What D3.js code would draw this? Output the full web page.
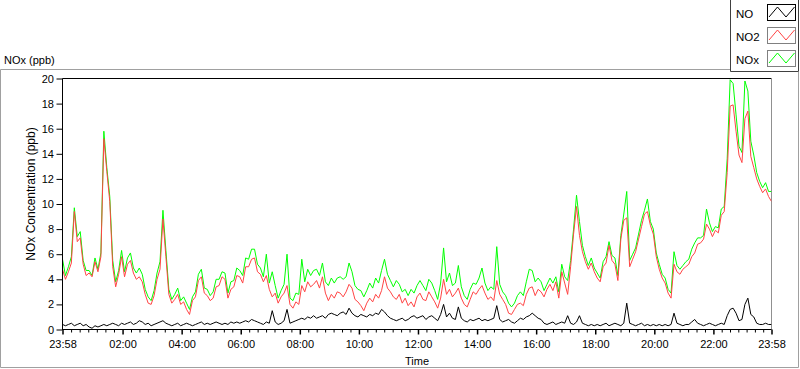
<!DOCTYPE html>
<html><head><meta charset="utf-8">
<script src="https://cdn.jsdelivr.net/npm/d3@7"></script>
<style>body{margin:0;background:#fff;} svg{display:block;font-family:"Liberation Sans",Arial,sans-serif;}</style>
</head><body><svg id="c" width="800" height="369"></svg>
<script>
// ---------------- DATA ----------------
const seriesNames = ["NO", "NO2", "NOx"];
const startLabel = "23:58";          // first sample time (day 0)
const stepMinutes = 6;               // sampling interval of the arrays below
const NO = [
0.4,0.3,0.4,0.5,0.3,0.4,0.5,0.3,0.4,0.2, 0.1,0.3,0.2,0.3,0.4,0.3,0.4,0.5,0.4,0.3,
0.5,0.4,0.5,0.6,0.4,0.5,0.7,0.6,0.4,0.5, 0.3,0.4,0.5,0.6,0.7,0.5,0.4,0.3,0.4,0.5,
0.3,0.4,0.5,0.4,0.3,0.4,0.5,0.6,0.4,0.5, 0.4,0.5,0.6,0.5,0.4,0.5,0.4,0.6,0.5,0.6,
0.5,0.6,0.7,0.6,0.8,0.7,0.6,
0.5,0.4,0.6,
0.5,1.5,0.6,0.4,0.5,0.7,1.6,0.5,0.6,0.7, 0.8,0.9,0.8,1.0,0.9,1.1,0.9,1.0,1.1,0.9,
1.2,1.3,1.2,1.1,1.3,1.4,1.2,1.7,1.3,1.1, 1.0,1.2,1.1,1.0,1.2,1.1,1.3,1.2,1.6,1.4,
1.1,0.9,0.8,0.7,0.8,0.9,0.7,0.8,1.0,1.1, 0.9,1.0,1.1,0.8,1.0,1.1,0.9,0.7,1.2,2.0,
1.0,1.3,0.9,0.8,1.8,0.9,0.7,0.6,0.8,0.7, 0.8,0.9,0.7,0.8,0.7,0.8,0.9,1.9,0.8,0.6,
0.7,0.8,0.6,0.5,0.7,0.9,0.8,1.0,1.1,1.3, 1.1,0.9,0.8,
0.5,0.4,0.5,0.6,0.4,0.5,0.6,
0.5,1.1,0.5,0.4,0.6,1.1,0.5,0.4,0.3,0.4, 0.3,0.4,0.3,0.4,0.5,0.3,0.4,0.5,0.4,0.3,
0.5,2.1,0.5,0.4,0.3,0.4,0.5,0.3,0.4,0.3, 0.4,0.3,0.4,0.3,0.4,0.3,0.4,1.3,0.5,0.4,
0.3,0.4,0.4,0.6,0.8,0.5,0.4,0.3,0.4,0.5, 0.4,0.3,0.4,0.5,0.4,1.1,1.6,1.7,1.3,0.7,
0.8,2.0,2.5,1.2,1.0,0.5,0.4,0.4,0.5,0.4, 0.4
];
const NO2 = [
4.8,4.0,4.6,5.3,9.4,7.0,7.3,5.2,4.3,4.5, 4.2,5.4,4.6,5.8,15.2,12.6,10.2,5.0,3.4,4.4,
5.8,4.2,5.2,5.5,4.5,4.0,4.2,3.8,2.8,2.1, 2.0,2.7,4.0,4.8,8.8,5.8,2.8,2.1,2.4,2.8,
2.0,2.2,1.6,1.2,2.3,2.6,3.9,4.2,2.9,2.7, 2.3,2.5,3.4,3.5,4.2,4.0,2.5,3.2,3.4,4.3,
4.2,3.7,5.0,5.0,5.6,5.7,4.6,
4.4,3.8,4.3,
3.2,2.6,2.9,2.1,2.6,2.9,3.5,2.0,1.7,2.2, 2.0,3.5,3.0,3.8,3.4,3.6,3.9,3.3,4.2,2.9,
2.3,2.8,2.5,3.0,2.9,2.6,3.0,3.6,3.3,2.4, 2.2,1.9,1.5,2.1,2.5,2.2,2.8,2.5,3.1,4.2,
3.3,3.0,2.6,2.4,2.8,2.1,2.5,1.9,2.2,1.8, 2.6,2.9,2.4,2.3,3.0,2.6,2.2,1.7,2.5,4.0,
2.8,3.2,2.6,2.9,3.3,2.5,2.0,1.8,2.4,3.0, 2.8,3.2,3.5,2.9,2.4,2.6,2.3,3.9,2.8,2.4,
2.0,1.3,1.2,1.6,2.0,2.1,1.9,2.8,3.3,3.4, 2.7,3.2,3.0,
2.6,3.2,3.6,3.1,3.8,2.5,4.6,
3.7,2.8,5.0,7.6,9.8,7.5,6.2,5.4,4.8,5.3, 4.6,4.1,3.8,5.0,5.3,6.7,5.5,5.2,3.9,7.2,
8.7,8.9,5.0,5.6,6.2,7.2,8.2,9.2,9.4,8.3, 7.6,5.8,4.8,4.1,3.7,2.9,2.5,5.2,4.6,4.4,
4.8,5.0,5.2,5.8,6.1,6.8,6.9,7.2,8.4,8.0, 7.4,7.9,7.7,9.1,9.4,12.5,17.8,17.9,15.8,13.9,
13.3,16.8,17.4,13.8,12.9,12.0,11.4,10.9,11.2,10.6, 10.2
];
const NOx = [
5.6,4.3,5.0,5.8,9.7,7.4,7.8,5.5,4.7,4.7, 4.3,5.7,4.8,6.1,15.8,12.9,10.6,5.5,3.8,4.7,
6.3,4.6,5.7,6.1,4.9,4.5,4.9,4.4,3.2,2.6, 2.3,3.1,4.5,5.4,9.5,6.3,3.2,2.4,2.8,3.3,
2.3,2.6,2.1,1.6,2.6,3.0,4.4,4.8,3.3,3.2, 2.7,3.0,4.0,4.0,4.6,4.5,2.9,3.8,3.9,4.9,
4.7,4.3,5.7,5.6,6.4,6.4,5.2,
4.9,4.2,6.0,
3.7,4.6,3.5,2.5,3.1,3.6,6.0,2.5,2.3,2.9, 2.8,5.6,3.8,4.8,4.3,4.7,4.8,4.3,5.3,3.8,
3.5,4.1,3.7,4.1,4.2,4.0,4.2,5.3,4.6,3.5, 3.2,3.1,2.6,3.1,3.7,3.3,4.1,3.7,4.7,5.6,
4.4,3.9,3.4,3.9,3.6,3.0,3.2,2.7,3.2,2.9, 3.5,3.9,3.5,3.1,4.0,3.7,3.1,2.4,3.7,6.5,
3.8,4.5,3.5,3.7,5.1,3.4,2.7,2.4,3.2,3.7, 3.6,4.1,4.9,3.7,3.1,3.4,3.2,6.6,3.6,3.0,
2.7,2.1,1.8,2.1,2.7,3.0,2.7,3.8,4.8,4.7, 3.8,4.1,3.8,
3.1,3.6,4.1,3.7,4.2,3.0,5.2,
4.2,3.9,5.5,8.0,10.7,8.6,6.7,5.8,5.1,5.7, 4.9,4.5,4.1,5.4,5.8,7.0,5.9,5.7,4.3,7.5,
9.2,11.0,5.5,6.0,6.5,7.6,8.7,9.5,10.4,8.6, 8.0,6.1,5.2,4.4,4.1,3.2,2.9,6.2,5.1,4.8,
5.1,5.4,5.6,6.4,6.9,7.3,7.3,7.5,9.6,8.5, 7.8,8.2,8.1,9.6,9.8,13.6,19.9,19.6,17.1,14.6,
14.1,19.8,19.0,15.0,13.9,12.5,11.8,11.3,11.7,11.0, 11.0
];
const yTicks = [0,2,4,6,8,10,12,14,16,18,20];
const xTickLabels = ["23:58","02:00","04:00","06:00","08:00","10:00","12:00","14:00","16:00","18:00","20:00","22:00","23:58"];
const seriesColors = {NO:"#000000", NO2:"#ff4444", NOx:"#00ff00"};

// ---------------- CHART ----------------
const svg = d3.select("#c");
const L = 62.5, R = 771.5, T = 78.5, B = 329.5;

function timeOf(label, day){ const [h,m] = label.split(":").map(Number); return new Date(2000,0,1+day,h,m); }
const t0 = timeOf(startLabel, 0);
const majorDates = xTickLabels.map((l,i)=> timeOf(l, i===0?0:1));
const x = d3.scaleTime().domain([majorDates[0], majorDates[majorDates.length-1]]).range([L, R]);
const y = d3.scaleLinear().domain([0,20]).range([B, T]);

// outer panel
const panel = svg.append("g").attr("fill","none");
panel.append("path").attr("d","M731,69.5H0.5V367.5H798.5V72").attr("stroke","#a0a0a0");
// legend box
panel.append("path").attr("d","M730.5,0V71.5H798.5V0").attr("stroke","#404040");

// title above
svg.append("text").attr("x",4).attr("y",63.5).attr("font-size",11).text("NOx (ppb)");

// plot frame
svg.append("line").attr("x1",L).attr("x2",R).attr("y1",T).attr("y2",T).attr("stroke","#000");
svg.append("line").attr("x1",R).attr("x2",R).attr("y1",T).attr("y2",B).attr("stroke","#909090");

// data
svg.append("clipPath").attr("id","pc").append("rect").attr("x",L).attr("y",T).attr("width",R-L).attr("height",B-T);
const pts = arr => arr.map((v,i)=>({t:new Date(t0.getTime()+i*stepMinutes*60000), v}));
const line = d3.line().x(d=>x(d.t)).y(d=>y(d.v));
const plotG = svg.append("g").attr("clip-path","url(#pc)");
const dataMap = {NO, NO2, NOx};
["NOx","NO2","NO"].forEach(n=>{
  plotG.append("path").datum(pts(dataMap[n])).attr("d",line)
    .attr("fill","none").attr("stroke",seriesColors[n]).attr("stroke-width",1);
});

// y axis
const ya = svg.append("g").attr("transform",`translate(${L},0)`)
  .call(d3.axisLeft(y).tickValues(yTicks).tickSize(6).tickPadding(2.5));
ya.select(".domain").remove();
ya.selectAll("text").attr("font-size",11).attr("font-family",null).attr("fill","#000");
ya.selectAll("line").attr("stroke","#000");
svg.append("line").attr("x1",L).attr("x2",L).attr("y1",T).attr("y2",B+0.5).attr("stroke","#000");

// x axis
const minorDates = [];
for(let k=0;k<majorDates.length-1;k++){
  const a=majorDates[k].getTime(), b=majorDates[k+1].getTime();
  for(let j=1;j<7;j++) minorDates.push(new Date(a+(b-a)*j/7));
}
const xa = svg.append("g").attr("transform",`translate(0,${B})`)
  .call(d3.axisBottom(x).tickValues(majorDates).tickFormat((d,i)=>xTickLabels[i]).tickSize(5).tickPadding(6));
xa.select(".domain").remove();
xa.selectAll("text").attr("font-size",11).attr("font-family",null).attr("fill","#000");
xa.selectAll("line").attr("stroke","#000").attr("stroke-width",1.5);
const xm = svg.append("g").attr("transform",`translate(0,${B})`)
  .call(d3.axisBottom(x).tickValues(minorDates).tickFormat("").tickSize(3));
xm.select(".domain").remove();
xm.selectAll("line").attr("stroke","#000");
svg.append("line").attr("x1",L).attr("x2",R).attr("y1",B).attr("y2",B).attr("stroke","#000");

// axis titles
svg.append("text").attr("x",(L+R)/2).attr("y",365).attr("text-anchor","middle").attr("font-size",11).text("Time");
svg.append("text").attr("transform","translate(35,194) rotate(-90)").attr("text-anchor","middle").attr("font-size",12).text("NOx Concentration (ppb)");

// legend
const lg = svg.append("g");
seriesNames.forEach((n,k)=>{
  const top = 4.5 + 23*k;
  lg.append("text").attr("x",736).attr("y",top+13).attr("font-size",11.5).text(n);
  lg.append("rect").attr("x",767.5).attr("y",top).attr("width",28).attr("height",16)
    .attr("fill","#fff").attr("stroke", k===0?"#000":"#808080");
  const zz = [[769,top+12.5],[777.5,top+2.5],[786,top+12.5],[794.5,top+2.5]];
  lg.append("path").attr("d",d3.line()(zz)).attr("fill","none").attr("stroke",seriesColors[n]);
});
</script></body></html>
